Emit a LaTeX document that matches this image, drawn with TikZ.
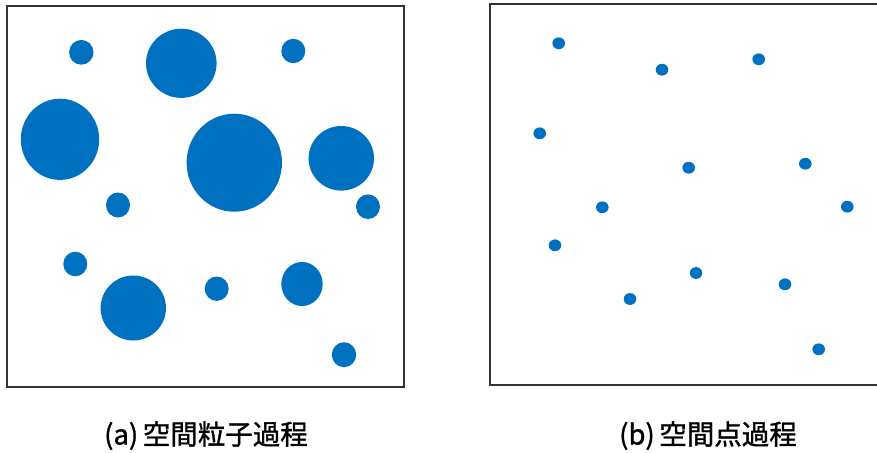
\documentclass[tikz,border=0pt]{standalone}
\usepackage{fontspec}
\newfontfamily\jpfont[FakeBold=1.2]{Noto Sans CJK JP}
\definecolor{particle}{HTML}{0070C0}
\definecolor{frame}{HTML}{333333}
\begin{document}
\begin{tikzpicture}[x=1pt,y=-1pt,
  frameline/.style={draw=frame,line width=1.4pt},
  grain/.style={fill=particle,draw=none},
  caption/.style={font=\jpfont\fontsize{27.5}{32}\selectfont,inner sep=0pt,anchor=base}]
\useasboundingbox (0,0) rectangle (877,452);

% (a) marked process: discs of varying size
\draw[frameline] (7,6) rectangle (404,387);
\foreach \cx/\cy/\rx/\ry in {
  81.3/52.3/12.2/12.4, 181.3/63.3/35.3/34.6, 293.3/51/12/12.2,
  60/139.3/39.2/40.6, 234.3/162.7/47.7/49, 341.3/158.3/32.7/32.3,
  118/205/12/12.5, 368/206.7/12/12.3, 75.3/264/12/12.3,
  133.3/308/32.7/32.5, 216.7/288.7/12/12.2, 302/284/20.7/22,
  344/354.7/12.2/12.5}
  \fill[grain] (\cx,\cy) ellipse [x radius=\rx, y radius=\ry];

% (b) point process: small dots, frame runs past the right edge
\draw[frameline] (890,4) -- (490,4) -- (490,385) -- (890,385);
\foreach \cx/\cy in {
  558.7/43.3, 662/69.7, 758.7/59.3, 539.7/133.3, 688.7/167.7,
  805.3/163.7, 602.3/207.3, 847.3/206.7, 555/245.3, 696/273,
  630/299, 785/284.3, 818.7/349.3}
  \fill[grain] (\cx,\cy) ellipse [x radius=6.3, y radius=5.9];

\node[caption] (capa) at (206,444.5) {(a)\,空間粒子過程};
\node[caption] (capb) at (708,444.5) {(b)\,空間点過程};
\end{tikzpicture}
\end{document}
